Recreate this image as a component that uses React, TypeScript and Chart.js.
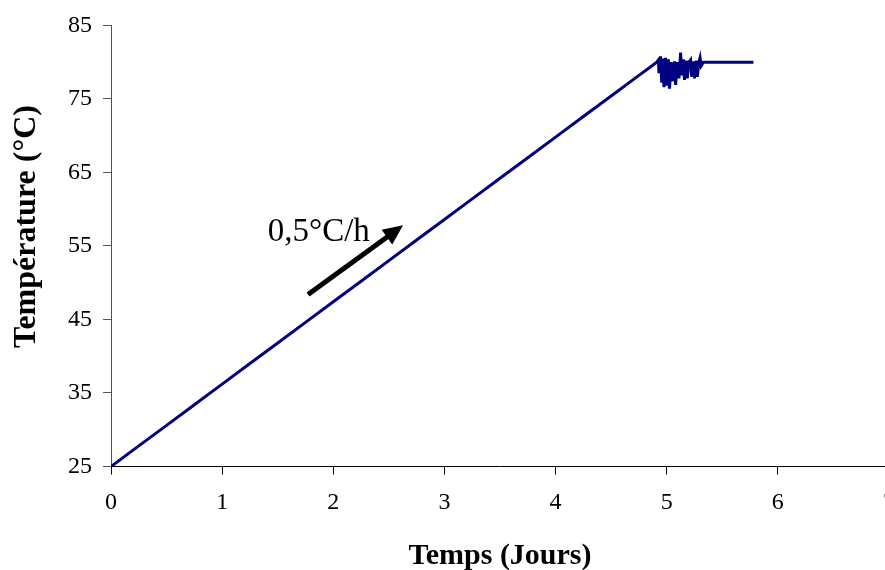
import React, { useEffect, useRef } from "react";
import { Chart, registerables } from "chart.js";

Chart.register(...registerables);

// Time in days
const DAYS = [
  0, 0.25, 0.5, 0.75, 1, 1.25, 1.5, 1.75, 2, 2.25, 2.5, 2.75, 3, 3.25, 3.5, 3.75, 4, 4.25, 4.5, 4.75, 4.85, 4.91,
  4.925, 4.93, 4.945, 4.955, 4.965, 4.975, 4.99, 5.0, 5.015, 5.025, 5.04, 5.05, 5.07, 5.08, 5.095, 5.11, 5.125,
  5.135, 5.15, 5.16, 5.175, 5.185, 5.2, 5.215, 5.225, 5.24, 5.25, 5.265, 5.275, 5.29, 5.3, 5.31, 5.33, 5.78,
];
// Temperature in °C
const TEMPS = [
  25.0, 27.8, 30.6, 33.4, 36.2, 39.0, 41.8, 44.6, 47.4, 50.2, 53.0, 55.8, 58.6, 61.4, 64.2, 67.0, 69.8, 72.6, 75.4, 78.2, 79.3, 80.0,
  80.3, 78.5, 80.8, 77.2, 80.5, 76.6, 80.6, 76.8, 80.4, 76.4, 80.0, 77.4, 80.1, 76.9, 80.0, 77.8, 81.3,
  78.2, 80.4, 77.6, 80.2, 77.8, 80.0, 80.3, 78.0, 80.1, 77.8, 80.2, 78.0, 80.0, 80.6, 79.5, 80.0, 80.0,
];

const X_TICKS = [0, 1, 2, 3, 4, 5, 6, 7];
const Y_TICKS = [25, 35, 45, 55, 65, 75, 85];

const X_TITLE = "Temps (Jours)";
const Y_TITLE = "Température (°C)";
const ARROW_LABEL = "0,5°C/h";
const ARROW_FROM = [1.773, 48.4];
const ARROW_TO = [2.628, 57.8];
const ARROW_LABEL_AT = [1.41, 55.7];

const SERIF = '"Liberation Serif", "Times New Roman", Times, serif';

const annotations = {
  id: "annotations",
  afterDatasetsDraw(chart: any) {
    const { ctx, scales } = chart;
    const xs = scales.x;
    const ys = scales.y;
    ctx.save();
    const x1 = xs.getPixelForValue(ARROW_FROM[0]);
    const y1 = ys.getPixelForValue(ARROW_FROM[1]);
    const x2 = xs.getPixelForValue(ARROW_TO[0]);
    const y2 = ys.getPixelForValue(ARROW_TO[1]);
    const ang = Math.atan2(y2 - y1, x2 - x1);
    const headLen = 20;
    const headW = 9;
    const bx = x2 - headLen * Math.cos(ang);
    const by = y2 - headLen * Math.sin(ang);
    ctx.strokeStyle = "#000";
    ctx.fillStyle = "#000";
    ctx.lineWidth = 5;
    ctx.beginPath();
    ctx.moveTo(x1, y1);
    ctx.lineTo(bx + 2 * Math.cos(ang), by + 2 * Math.sin(ang));
    ctx.stroke();
    ctx.beginPath();
    ctx.moveTo(x2, y2);
    ctx.lineTo(bx + headW * Math.sin(ang), by - headW * Math.cos(ang));
    ctx.lineTo(bx - headW * Math.sin(ang), by + headW * Math.cos(ang));
    ctx.closePath();
    ctx.fill();
    ctx.font = `33px ${SERIF}`;
    ctx.textAlign = "left";
    ctx.textBaseline = "alphabetic";
    ctx.fillText(ARROW_LABEL, xs.getPixelForValue(ARROW_LABEL_AT[0]), ys.getPixelForValue(ARROW_LABEL_AT[1]));
    ctx.restore();
  },
  afterDraw(chart: any) {
    const { ctx, chartArea } = chart;
    ctx.save();
    ctx.fillStyle = "#000";
    ctx.font = `bold 30px ${SERIF}`;
    ctx.textAlign = "center";
    ctx.textBaseline = "alphabetic";
    ctx.fillText(X_TITLE, 500, chartArea.bottom + 97);
    ctx.translate(35, 348);
    ctx.rotate(-Math.PI / 2);
    ctx.textAlign = "left";
    ctx.font = `bold 32px ${SERIF}`;
    ctx.fillText(Y_TITLE, 0, 0);
    ctx.restore();
  },
};

export default function App() {
  const ref = useRef<HTMLCanvasElement | null>(null);
  useEffect(() => {
    const canvas = ref.current;
    if (!canvas) return;
    const chart = new Chart(canvas, {
      type: "scatter",
      data: {
        datasets: [
          {
            data: DAYS.map((d, i) => ({ x: d, y: TEMPS[i] })),
            showLine: true,
            borderColor: "#000080",
            backgroundColor: "#000080",
            borderWidth: 3,
            pointRadius: 0,
            tension: 0,
          },
        ],
      },
      options: {
        animation: false,
        responsive: false,
        devicePixelRatio: 1,
        layout: { padding: { left: 0, right: 2, top: 21, bottom: 0 } },
        plugins: { legend: { display: false }, tooltip: { enabled: false } },
        scales: {
          x: {
            type: "linear",
            min: X_TICKS[0],
            max: X_TICKS[X_TICKS.length - 1],
            afterBuildTicks: (s: any) => {
              s.ticks = X_TICKS.map((v) => ({ value: v }));
            },
            afterFit: (s: any) => {
              s.height = 103.5;
            },
            ticks: {
              color: "#000",
              font: { family: SERIF, size: 24 },
              padding: 14,
              maxRotation: 0,
              autoSkip: false,
            },
            grid: { display: true, drawOnChartArea: false, drawTicks: true, tickLength: 8, color: "#000", lineWidth: 1 },
            border: { display: true, color: "#000", width: 1 },
          },
          y: {
            type: "linear",
            min: Y_TICKS[0],
            max: Y_TICKS[Y_TICKS.length - 1],
            afterBuildTicks: (s: any) => {
              s.ticks = Y_TICKS.map((v) => ({ value: v }));
            },
            afterFit: (s: any) => {
              s.width = 111;
            },
            ticks: {
              color: "#000",
              font: { family: SERIF, size: 24 },
              padding: 11,
              autoSkip: false,
            },
            grid: { display: true, drawOnChartArea: false, drawTicks: true, tickLength: 8, color: "#555", lineWidth: 1 },
            border: { display: true, color: "#555", width: 1 },
          },
        },
      },
      plugins: [annotations],
    });
    return () => chart.destroy();
  }, []);
  return (
    <div style={{ position: "absolute", left: 0, top: 0, width: 885, height: 570, overflow: "hidden", background: "#fff" }}>
      <canvas ref={ref} width={909} height={570} style={{ width: 909, height: 570, display: "block" }} />
    </div>
  );
}
